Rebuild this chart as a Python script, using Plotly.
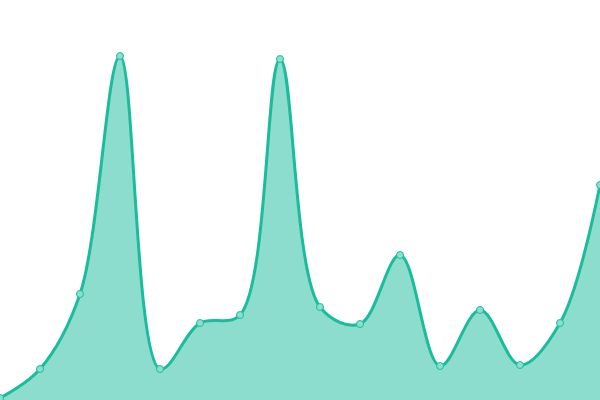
import plotly.graph_objects as go

# sample positions and values (0 = bottom edge)
x_idx = list(range(16))
values = [2, 31, 106, 344, 31, 77, 85, 341, 93, 76, 145, 34, 90, 35, 77, 215]

LINE = "#1abc9c"
FILL = "rgba(26,188,156,0.5)"

fig = go.Figure(go.Scatter(
    x=x_idx,
    y=values,
    mode="lines+markers",
    fill="tozeroy",
    fillcolor=FILL,
    line=dict(color=LINE, width=3, shape="spline", smoothing=1.0),
    marker=dict(size=7, color="#8ae0cf", line=dict(color=LINE, width=1)),
    hoverinfo="skip",
))

fig.update_layout(
    width=600, height=400,
    margin=dict(l=0, r=0, t=0, b=0),
    paper_bgcolor="white",
    plot_bgcolor="white",
    showlegend=False,
    xaxis=dict(range=[0, 15], visible=False, fixedrange=True),
    yaxis=dict(range=[0, 400], visible=False, fixedrange=True),
)

# drop the default page margin so the chart sits flush in the window
fig.write_html("out.html", config={"displayModeBar": False},
               post_script="document.body.style.margin='0';")
